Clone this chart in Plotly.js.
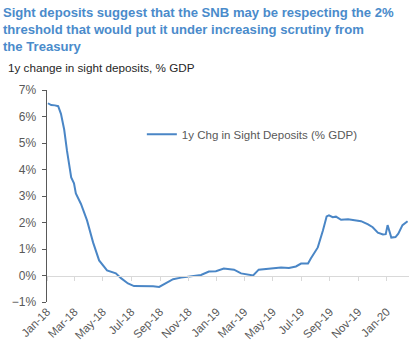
<!DOCTYPE html>
<html>
<head>
<meta charset="utf-8">
<script src="https://cdn.plot.ly/plotly-3.0.1.min.js"></script>
<style>
html,body{margin:0;padding:0;background:#fff;}
#chart{width:420px;height:351px;}
</style>
</head>
<body>
<div id="chart"></div>
<script>
const seriesName = "1y Chg in Sight Deposits (% GDP)";
const dates = [
 "2018-01-03","2018-01-10","2018-01-18","2018-01-25","2018-01-31","2018-02-07","2018-02-13","2018-02-22",
 "2018-02-28","2018-03-04","2018-03-15","2018-03-28","2018-04-10","2018-04-23","2018-05-10","2018-05-29",
 "2018-06-09","2018-06-24","2018-07-07","2018-08-02","2018-08-17","2018-08-30","2018-09-14","2018-09-29",
 "2018-10-16","2018-11-06","2018-11-28","2018-12-15","2018-12-30","2019-01-16","2019-02-07","2019-02-22",
 "2019-03-20","2019-04-01","2019-04-27","2019-05-19","2019-06-05","2019-06-20","2019-07-01","2019-07-16",
 "2019-07-22","2019-08-06","2019-08-17","2019-08-25","2019-08-30","2019-09-07","2019-09-14","2019-09-25",
 "2019-10-10","2019-10-20","2019-11-07","2019-11-22","2019-12-02","2019-12-13","2019-12-24","2019-12-30",
 "2020-01-03","2020-01-11","2020-01-20","2020-01-26","2020-02-04","2020-02-15"
];
const sightDeposits = [
 6.50,6.43,6.42,6.39,6.10,5.50,4.70,3.70,
 3.48,3.10,2.70,2.08,1.25,0.57,0.19,0.08,
 -0.10,-0.30,-0.40,-0.40,-0.41,-0.43,-0.27,-0.14,
 -0.08,-0.03,0.02,0.15,0.16,0.26,0.22,0.08,
 0.00,0.22,0.26,0.30,0.28,0.34,0.45,0.45,
 0.64,1.06,1.70,2.23,2.27,2.20,2.22,2.10,
 2.12,2.10,2.05,1.93,1.82,1.62,1.55,1.56,
 1.90,1.43,1.45,1.58,1.90,2.05
];
const titleText = "Sight deposits suggest that the SNB may be respecting the 2%<br>threshold that would put it under increasing scrutiny from<br>the Treasury";
const subtitleText = "1y change in sight deposits, % GDP";
const xRange = ["2018-01-01","2020-02-18"];
const yRange = [-1, 7];

const FONT = '"Liberation Sans", Arial, sans-serif';
const gray = '#595959';

const traces = [{
  x: dates, y: sightDeposits, type: 'scatter', mode: 'lines', name: seriesName,
  line: {color: '#4a86c6', width: 2}, showlegend: true
},{
  x: [dates[0]], y: [null], xaxis: 'x2', showlegend: false, hoverinfo: 'skip'
}];

const layout = {
  width: 420, height: 351,
  margin: {l: 47, r: 11, t: 90, b: 49},
  paper_bgcolor: '#fff', plot_bgcolor: '#fff',
  font: {family: FONT, color: gray, size: 12},
  annotations: [{
    text: titleText, xref: 'paper', yref: 'paper', x: -0.127, y: 1.41,
    xanchor: 'left', yanchor: 'top', align: 'left', showarrow: false,
    font: {family: FONT, size: 13.1, color: '#4a8bcb', weight: 'bold'}
  },{
    text: subtitleText, xref: 'paper', yref: 'paper', x: -0.113, y: 1.104,
    xanchor: 'left', yanchor: 'middle', showarrow: false,
    font: {family: FONT, size: 11.7, color: '#262626'}
  }],
  showlegend: true,
  legend: {x: 0.262, y: 0.86, xanchor: 'left', yanchor: 'top', bgcolor: 'rgba(0,0,0,0)',
    font: {family: FONT, size: 11.5, color: gray}},
  xaxis: {
    type: 'date', range: xRange, tick0: '2018-01-01', dtick: 'M2', tickformat: '%b-%y',
    tickangle: -45, showgrid: false, zeroline: false, showline: false, ticks: '',
    tickfont: {family: FONT, size: 11.5, color: gray}, fixedrange: true
  },
  xaxis2: {
    type: 'date', overlaying: 'x', matches: 'x', anchor: 'free', position: 0.125,
    range: xRange, tick0: '2018-01-01', dtick: 'M2', showticklabels: false,
    showline: true, linecolor: '#d9d9d9', linewidth: 1.5, ticks: 'outside', ticklen: 4,
    tickcolor: '#d9d9d9', tickwidth: 1, showgrid: false, zeroline: false
  },
  yaxis: {
    range: yRange, dtick: 1, ticksuffix: '%', showgrid: false, zeroline: false,
    showline: true, linecolor: '#595959', linewidth: 1.5, ticks: 'outside', ticklen: 4,
    ticklabelstandoff: 3,
    tickcolor: '#595959', tickfont: {family: FONT, size: 12, color: gray}, fixedrange: true
  }
};

Plotly.newPlot('chart', traces, layout, {displayModeBar: false, staticPlot: true});
</script>
</body>
</html>
